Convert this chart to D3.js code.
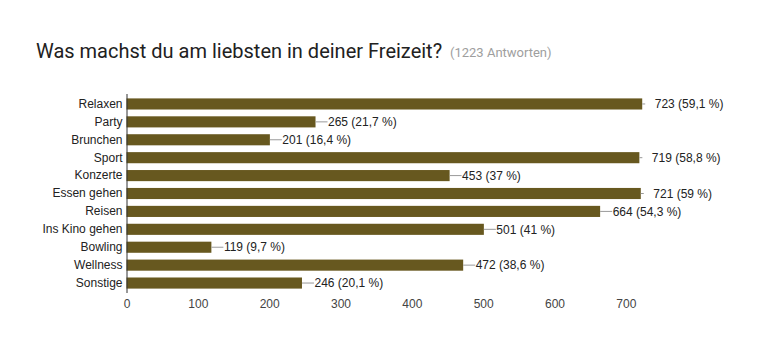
<!DOCTYPE html>
<html>
<head>
<meta charset="utf-8">
<script src="https://cdn.jsdelivr.net/npm/d3@7"></script>
<style>
  body { margin: 0; background: #fff; }
  svg text { font-family: "Liberation Sans", Arial, sans-serif; }
</style>
</head>
<body>
<div id="chart"></div>
<script>
// data
var categories = ["Relaxen", "Party", "Brunchen", "Sport", "Konzerte", "Essen gehen",
  "Reisen", "Ins Kino gehen", "Bowling", "Wellness", "Sonstige"];
var counts = [723, 265, 201, 719, 453, 721, 664, 501, 119, 472, 246];
var percents = ["59,1", "21,7", "16,4", "58,8", "37", "59", "54,3", "41", "9,7", "38,6", "20,1"];
var xTicks = [0, 100, 200, 300, 400, 500, 600, 700];

var svgWidth = 759;
var svgHeight = 363;

var data = categories.map(function(c, i) {
  return { name: c, value: counts[i], pct: percents[i] };
});

var svg = d3.select("#chart")
  .append("svg")
  .attr("width", svgWidth)
  .attr("height", svgHeight);

// title
svg.append("text")
  .attr("x", 36)
  .attr("y", 58)
  .style("font-family", "Roboto, sans-serif")
  .style("font-size", "20px")
  .style("fill", "#212121")
  .text("Was machst du am liebsten in deiner Freizeit?");

svg.append("text")
  .attr("x", 450)
  .attr("y", 57)
  .style("font-family", "Roboto, sans-serif")
  .style("font-size", "13px")
  .style("fill", "#9e9e9e")
  .text("(1223 Antworten)");

// scales
var xScale = d3.scaleLinear()
  .domain([0, 800])
  .range([126.5, 126.5 + 800 * 0.7133]);

var yScale = d3.scaleBand()
  .domain(categories)
  .range([95, 292])
  .paddingInner(0.38)
  .paddingOuter(0.19);

// bars
svg.selectAll("rect.bar")
  .data(data)
  .enter()
  .append("rect")
  .attr("class", "bar")
  .attr("x", xScale(0))
  .attr("y", d => yScale(d.name))
  .attr("width", d => xScale(d.value) - xScale(0))
  .attr("height", yScale.bandwidth())
  .attr("fill", "#67581f");

// connector lines
svg.selectAll("line.conn")
  .data(data)
  .enter()
  .append("line")
  .attr("class", "conn")
  .attr("x1", d => xScale(d.value))
  .attr("x2", d => xScale(d.value) + (d.value > 700 ? 3 : 12))
  .attr("y1", d => yScale(d.name) + yScale.bandwidth() / 2)
  .attr("y2", d => yScale(d.name) + yScale.bandwidth() / 2)
  .attr("stroke", "#999")
  .attr("stroke-width", 1);

// value labels
svg.selectAll("text.val")
  .data(data)
  .enter()
  .append("text")
  .attr("class", "val")
  .attr("x", d => xScale(d.value) + 12.5)
  .attr("y", d => yScale(d.name) + yScale.bandwidth() / 2)
  .attr("dy", "0.35em")
  .style("font-size", "12px")
  .style("fill", "#222")
  .text(d => d.value + " (" + d.pct + " %)");

// y axis (category labels)
var yAxis = svg.append("g")
  .attr("transform", "translate(" + xScale(0) + ",0)")
  .call(d3.axisLeft(yScale).tickSize(0).tickPadding(4));
yAxis.select(".domain").attr("stroke", "#333").attr("d", "M0.5,94V293");
yAxis.selectAll("text")
  .style("font-family", "'Liberation Sans', Arial, sans-serif")
  .style("font-size", "12px")
  .style("fill", "#222");

// x axis (no line)
var xAxis = svg.append("g")
  .attr("transform", "translate(0,292)")
  .call(d3.axisBottom(xScale).tickValues(xTicks).tickSize(0).tickPadding(7));
xAxis.select(".domain").remove();
xAxis.selectAll("text")
  .style("font-family", "'Liberation Sans', Arial, sans-serif")
  .style("font-size", "12px")
  .style("fill", "#444");
</script>
</body>
</html>
